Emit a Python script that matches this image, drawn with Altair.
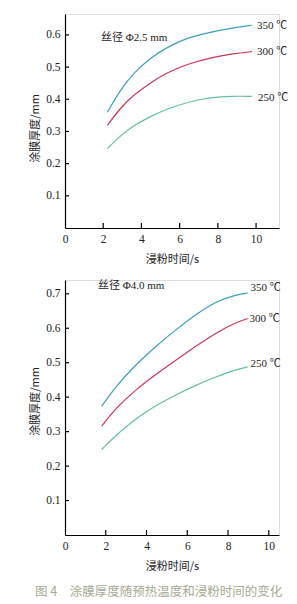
import altair as alt
import pandas as pd

# ---- data: top panel (wire diameter 2.5 mm) ----
t_x = [2.22, 2.92, 3.61, 4.48, 5.35, 6.39, 7.6, 8.82, 9.78]
t_350 = [0.360, 0.432, 0.483, 0.529, 0.562, 0.591, 0.609, 0.622, 0.630]
t_300 = [0.319, 0.375, 0.414, 0.452, 0.483, 0.509, 0.529, 0.542, 0.548]
t_250 = [0.247, 0.288, 0.319, 0.347, 0.370, 0.391, 0.406, 0.410, 0.409]

# ---- data: bottom panel (wire diameter 4.0 mm) ----
b_x = [1.8, 2.5, 3.48, 4.46, 5.44, 6.42, 7.4, 8.38, 8.96]
b_350 = [0.374, 0.432, 0.495, 0.548, 0.596, 0.640, 0.678, 0.697, 0.702]
b_300 = [0.316, 0.369, 0.422, 0.466, 0.507, 0.548, 0.586, 0.617, 0.628]
b_250 = [0.248, 0.290, 0.338, 0.376, 0.407, 0.435, 0.459, 0.480, 0.488]

series = ["350 ℃", "300 ℃", "250 ℃"]
colors = ["#3e9fbf", "#cc3656", "#66bfa4"]

t_label_x = [10.05, 10.05, 10.1]
t_label_y = [0.628, 0.548, 0.403]
b_label_x = [9.1, 9.05, 9.1]
b_label_y = [0.716, 0.628, 0.496]

x_ticks = [2, 4, 6, 8, 10]
t_y_ticks = [0.1, 0.2, 0.3, 0.4, 0.5, 0.6]
b_y_ticks = [0.1, 0.2, 0.3, 0.4, 0.5, 0.6, 0.7]

SERIF = "'Liberation Serif', serif"
MIXED = "'Liberation Serif', 'Noto Sans CJK SC', serif"
CJK = "Noto Sans CJK SC"


def long_df(xs, ys_list):
    rows = []
    for name, ys in zip(series, ys_list):
        for xv, yv in zip(xs, ys):
            rows.append({"x": xv, "y": yv, "s": name})
    return pd.DataFrame(rows)


def panel(xs, ys_list, lx, ly, note, note_x, note_y, xdom, ydom, yticks, w, h, ytitle_y):
    xs_scale = alt.Scale(domain=xdom, nice=False, zero=False)
    ys_scale = alt.Scale(domain=ydom, nice=False, zero=False)
    color = alt.Color("s:N", scale=alt.Scale(domain=series, range=colors), legend=None)
    lines = alt.Chart(long_df(xs, ys_list)).mark_line(
        interpolate="basis", strokeWidth=1.2
    ).encode(
        x=alt.X("x:Q", scale=xs_scale, axis=alt.Axis(
            values=[0] + x_ticks, format="d", tickSize=0, labelPadding=5,
            title="浸粉时间/s", titleFont=CJK, titleFontSize=11, titleFontWeight="normal",
            titleY=31, titleBaseline="middle", titleColor="#222",
            labelFont=SERIF, labelFontSize=11.5, labelColor="#222",
            domainColor="#000", domainWidth=1.2, grid=False, labelFlush=False)),
        y=alt.Y("y:Q", scale=ys_scale, axis=alt.Axis(
            values=yticks, format=".1f", tickSize=0, labelPadding=5,
            title="涂膜厚度/mm", titleFont=CJK, titleFontSize=11, titleFontWeight="normal",
            titleX=-30, titleY=ytitle_y, titleAngle=-90, titleAlign="center",
            titleBaseline="middle", titleColor="#222",
            labelFont=SERIF, labelFontSize=11.5, labelColor="#222",
            domainColor="#000", domainWidth=1.2, grid=False)),
        color=color,
    )
    lab_df = pd.DataFrame({"x": lx, "y": ly, "s": series})
    labels = alt.Chart(lab_df).mark_text(
        align="left", baseline="middle", font=MIXED, fontSize=11, color="#222"
    ).encode(x=alt.X("x:Q", scale=xs_scale), y=alt.Y("y:Q", scale=ys_scale), text="s:N")
    note_df = pd.DataFrame({"x": [note_x], "y": [note_y], "t": [note]})
    note_mark = alt.Chart(note_df).mark_text(
        align="left", baseline="middle", font=MIXED, fontSize=11, color="#222"
    ).encode(x=alt.X("x:Q", scale=xs_scale), y=alt.Y("y:Q", scale=ys_scale), text="t:N")
    xt = alt.Chart(pd.DataFrame({"x": x_ticks})).mark_rule(color="#000", strokeWidth=1.2).encode(
        x=alt.X("x:Q", scale=xs_scale), y=alt.value(h), y2=alt.value(h - 5))
    yt = alt.Chart(pd.DataFrame({"y": yticks})).mark_rule(color="#000", strokeWidth=1.2).encode(
        y=alt.Y("y:Q", scale=ys_scale), x=alt.value(0), x2=alt.value(4))
    return alt.layer(lines, labels, note_mark, xt, yt).properties(width=w, height=h)


top = panel(t_x, [t_350, t_300, t_250], t_label_x, t_label_y, "丝径 Φ2.5 mm", 1.88, 0.59,
            [0, 11.2], [0, 0.665], t_y_ticks, 214, 214, 114)
bottom = panel(b_x, [b_350, b_300, b_250], b_label_x, b_label_y, "丝径 Φ4.0 mm", 1.62, 0.722,
               [0, 10.5], [0, 0.74], b_y_ticks, 214, 255, 121)

chart = alt.vconcat(top, bottom, spacing=14).properties(
    title=alt.TitleParams("图 4\u3000涂膜厚度随预热温度和浸粉时间的变化", orient="bottom",
                          anchor="middle", font=CJK, fontSize=12.5, fontWeight="normal",
                          color="#a4aa92", offset=14),
    padding={"left": 28, "top": 13, "right": 5, "bottom": 5},
).configure_view(stroke=None).configure(background="white")

chart.save("out.html", embed_options={"renderer": "svg", "actions": False})
